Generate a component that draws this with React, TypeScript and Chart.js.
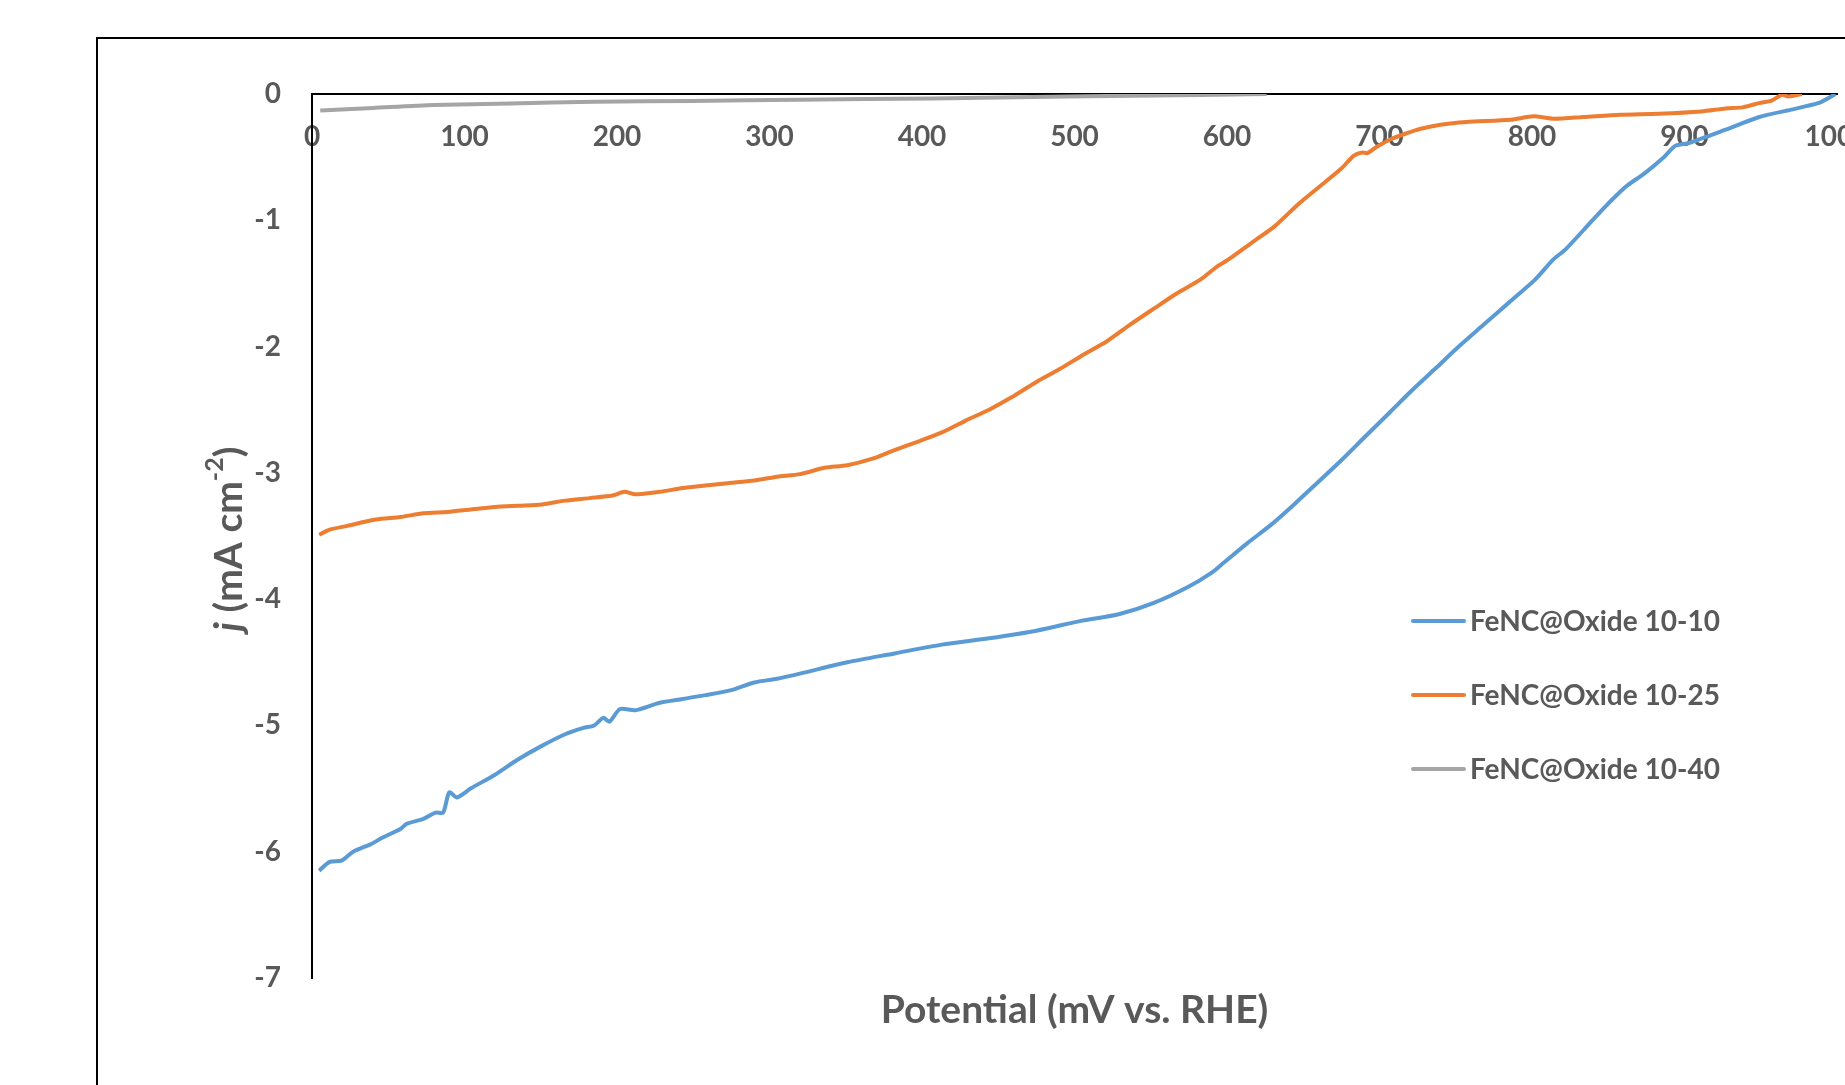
import React, { useEffect, useRef } from "react";
import { Chart, registerables } from "chart.js";

Chart.register(...registerables);

// ---------- data ----------
const seriesLabels = ["FeNC@Oxide 10-10", "FeNC@Oxide 10-25", "FeNC@Oxide 10-40"];
const seriesColors = ["#5B9BD5", "#ED7D31", "#A5A5A5"];

const potential1010 = [
  4.7, 11.6, 19.4, 27, 38.7, 46, 58, 62, 73, 81, 86, 90, 95, 104, 120, 135, 151, 166, 178, 185,
  191, 195, 202, 212, 228, 243, 258, 275, 290, 305, 320, 351, 382, 413, 444, 475, 505, 529, 552,
  575, 590, 598, 613, 629, 644, 660, 675, 690, 706, 721, 737, 752, 768, 785, 802, 814, 822, 834,
  846, 858, 863, 874, 887, 894, 903, 927, 949, 970, 988, 999,
];
const current1010 = [
  -6.15, -6.08, -6.07, -6.0, -5.94, -5.89, -5.82, -5.78, -5.74, -5.69, -5.69, -5.53, -5.57, -5.5,
  -5.39, -5.27, -5.16, -5.07, -5.02, -5.0, -4.94, -4.97, -4.87, -4.88, -4.82, -4.79, -4.76, -4.72,
  -4.66, -4.63, -4.59, -4.5, -4.43, -4.36, -4.31, -4.25, -4.17, -4.12, -4.03, -3.9, -3.79, -3.71,
  -3.56, -3.41, -3.25, -3.07, -2.9, -2.72, -2.53, -2.35, -2.17, -2.0, -1.83, -1.65, -1.47, -1.31,
  -1.23, -1.075, -0.917, -0.772, -0.72, -0.626, -0.494, -0.41, -0.388, -0.283, -0.182, -0.124,
  -0.071, 0,
];

const potential1025 = [
  4.7, 11.6, 23, 42, 58, 73, 89, 104, 120, 135, 151, 166, 182, 197, 205, 212, 228, 243, 258, 274,
  290, 305, 320, 336, 351, 367, 382, 398, 413, 428, 444, 459, 475, 490, 505, 521, 536, 552, 567,
  582.5, 593, 601, 617, 631, 646, 661, 675, 683, 688.5, 692, 698, 707, 718, 727, 740, 757, 786,
  801, 814, 834, 858, 883, 911, 927, 938, 949, 957, 964, 968, 977,
];
const current1025 = [
  -3.49, -3.45, -3.42, -3.37, -3.35, -3.32, -3.31, -3.29, -3.27, -3.26, -3.25, -3.22, -3.2, -3.18,
  -3.15, -3.17, -3.15, -3.12, -3.1, -3.08, -3.06, -3.03, -3.01, -2.96, -2.94, -2.89, -2.82, -2.75,
  -2.68, -2.59, -2.5, -2.4, -2.28, -2.18, -2.07, -1.96, -1.83, -1.7, -1.58, -1.47, -1.37, -1.31,
  -1.17, -1.05, -0.88, -0.73, -0.59, -0.49, -0.463, -0.468, -0.42, -0.36, -0.31, -0.275, -0.243,
  -0.222, -0.204, -0.177, -0.196, -0.182, -0.164, -0.156, -0.138, -0.114, -0.106, -0.072, -0.053,
  -0.006, -0.019, 0,
];

const potential1040 = [5.4, 40, 80, 130, 185, 250, 320, 407, 495, 583, 626];
const current1040 = [-0.13, -0.11, -0.087, -0.075, -0.061, -0.055, -0.045, -0.035, -0.019, -0.008, 0];

const xTicks = [0, 100, 200, 300, 400, 500, 600, 700, 800, 900, 1000];
const yTicks = [0, -1, -2, -3, -4, -5, -6, -7];

const xTitle = "Potential (mV vs. RHE)";

// ---------- styles ----------
const FONT = "Lato";
const TEXT = "#595959";

const toPoints = (xs: number[], ys: number[]) => xs.map((x, i) => ({ x, y: ys[i] }));

const decorPlugin = {
  id: "decor",
  beforeDraw(chart: any) {
    const ctx = chart.ctx;
    ctx.save();
    ctx.fillStyle = "#ffffff";
    ctx.fillRect(0, 0, chart.width, chart.height);
    // outer frame (top and left edges visible)
    ctx.strokeStyle = "#000000";
    ctx.lineWidth = 2;
    ctx.beginPath();
    ctx.moveTo(97, chart.height + 5);
    ctx.lineTo(97, 38);
    ctx.lineTo(chart.width + 5, 38);
    ctx.stroke();
    ctx.restore();
  },
  afterDraw(chart: any) {
    const ctx = chart.ctx;
    const area = chart.chartArea;
    ctx.save();
    ctx.fillStyle = TEXT;

    // x-axis title
    ctx.font = `bold 39px ${FONT}`;
    ctx.textAlign = "center";
    ctx.textBaseline = "middle";
    ctx.fillText(xTitle, (area.left + area.right) / 2, 1010);

    // y-axis title: j (mA cm-2), rotated
    ctx.translate(229, 539);
    ctx.rotate(-Math.PI / 2);
    const fMain = `bold 39px ${FONT}`;
    const fItal = `italic bold 39px ${FONT}`;
    const fSup = `bold 25px ${FONT}`;
    const parts = [
      { t: "j", f: fItal, dy: 0 },
      { t: " (mA cm", f: fMain, dy: 0 },
      { t: "-2", f: fSup, dy: -14 },
      { t: ")", f: fMain, dy: 0 },
    ];
    let total = 0;
    parts.forEach((p) => {
      ctx.font = p.f;
      total += ctx.measureText(p.t).width;
    });
    let cx = -total / 2;
    ctx.textAlign = "left";
    ctx.textBaseline = "middle";
    parts.forEach((p) => {
      ctx.font = p.f;
      ctx.fillText(p.t, cx, p.dy);
      cx += ctx.measureText(p.t).width;
    });
    ctx.setTransform(1, 0, 0, 1, 0, 0);

    // legend
    const ys = [621, 695, 769];
    ctx.font = `bold 28px ${FONT}`;
    ctx.textAlign = "left";
    ctx.textBaseline = "middle";
    chart.data.datasets.forEach((ds: any, i: number) => {
      ctx.strokeStyle = ds.borderColor;
      ctx.lineWidth = 4;
      ctx.lineCap = "round";
      ctx.beginPath();
      ctx.moveTo(1413, ys[i]);
      ctx.lineTo(1464, ys[i]);
      ctx.stroke();
      ctx.fillStyle = TEXT;
      ctx.fillText(ds.label, 1470, ys[i] + 1);
    });
    ctx.restore();
  },
};

export default function App() {
  const ref = useRef<HTMLCanvasElement | null>(null);

  useEffect(() => {
    if (!ref.current) return;
    const series = [
      toPoints(potential1010, current1010),
      toPoints(potential1025, current1025),
      toPoints(potential1040, current1040),
    ];
    const chart = new Chart(ref.current, {
      type: "line",
      data: {
        datasets: series.map((d, i) => ({
          label: seriesLabels[i],
          data: d,
          borderColor: seriesColors[i],
          backgroundColor: seriesColors[i],
          borderWidth: 4,
          pointRadius: 0,
          tension: 0.25,
          fill: false,
        })),
      },
      options: {
        animation: false,
        responsive: false,
        devicePixelRatio: 1,
        layout: { padding: { left: 0, top: 94, right: 8, bottom: 107 } },
        plugins: { legend: { display: false }, tooltip: { enabled: false } },
        scales: {
          x: {
            type: "linear",
            position: { y: 0 } as any,
            min: 0,
            max: 1000,
            afterBuildTicks: (s: any) => {
              s.ticks = xTicks.map((v) => ({ value: v }));
            },
            afterFit: (s: any) => {
              s.paddingLeft = 0;
              s.paddingRight = 0;
            },
            grid: { display: false, drawTicks: false },
            border: { display: true, color: "#000000", width: 2 },
            ticks: {
              padding: 26,
              color: TEXT,
              font: { family: FONT, size: 28, weight: "bold" },
              maxRotation: 0,
              autoSkip: false,
              callback: (v: any) => String(v),
            },
          },
          y: {
            type: "linear",
            position: "left",
            min: -7,
            max: 0,
            afterBuildTicks: (s: any) => {
              s.ticks = yTicks.map((v) => ({ value: v }));
            },
            afterFit: (s: any) => {
              s.width = 312;
            },
            grid: { display: false, drawTicks: false },
            border: { display: true, color: "#000000", width: 2 },
            ticks: {
              padding: 31,
              color: TEXT,
              font: { family: FONT, size: 28, weight: "bold" },
              autoSkip: false,
              callback: (v: any) => String(v),
            },
          },
        },
      },
      plugins: [decorPlugin],
    });
    if ((document as any).fonts && (document as any).fonts.load) {
      Promise.all([
        (document as any).fonts.load(`bold 28px ${FONT}`),
        (document as any).fonts.load(`italic bold 39px ${FONT}`),
      ]).then(() => chart.update()).catch(() => {});
    }
    return () => chart.destroy();
  }, []);

  return (
    <div style={{ position: "absolute", left: 0, top: 0, width: 1845, height: 1085, background: "#fff" }}>
      <canvas ref={ref} width={1845} height={1085} style={{ display: "block" }} />
    </div>
  );
}
